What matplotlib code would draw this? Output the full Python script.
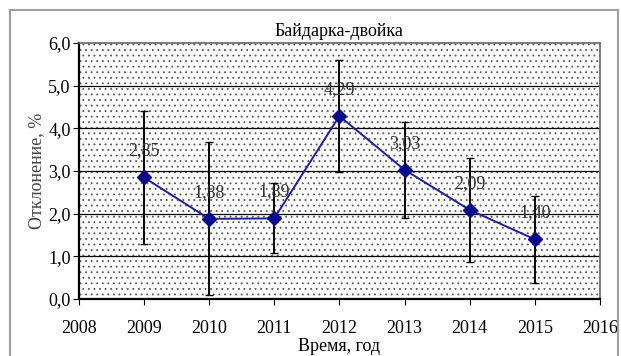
import matplotlib.pyplot as plt
from matplotlib.patches import Rectangle

plt.rcParams['font.family'] = ['Liberation Serif', 'DejaVu Serif']
plt.rcParams['hatch.linewidth'] = 0.6

# Данные
years = [2009, 2010, 2011, 2012, 2013, 2014, 2015]
values = [2.85, 1.88, 1.89, 4.29, 3.03, 2.09, 1.40]
errors = [1.56, 1.79, 0.82, 1.31, 1.13, 1.22, 1.02]
labels = ["2,85", "1,88", "1,89", "4,29", "3,03", "2,09", "1,40"]
xticks = [2008, 2009, 2010, 2011, 2012, 2013, 2014, 2015, 2016]
yticks = [0, 1, 2, 3, 4, 5, 6]

fig = plt.figure(figsize=(6.21, 3.56), dpi=100)
ax = fig.add_axes([0.127, 0.160, 0.839, 0.719])

# внешняя рамка
fig.patches.append(Rectangle((0.016, -0.05), 0.979, 1.022, transform=fig.transFigure,
                             fill=False, edgecolor='#a0a0a0', linewidth=1.5))

# точечный фон
ax.add_patch(Rectangle((0, 0), 1, 1, transform=ax.transAxes, facecolor='white',
                       edgecolor='#555555', hatch='...', linewidth=0, zorder=0))

ax.set_xlim(2008, 2016)
ax.set_ylim(0, 6)
ax.set_xticks(xticks)
ax.set_xticklabels([str(x) for x in xticks], fontsize=13)
ax.set_yticks(yticks)
ax.set_yticklabels([f"{y:.1f}".replace('.', ',') for y in yticks], fontsize=13)
ax.tick_params(axis='x', length=4, pad=11)
ax.tick_params(axis='y', length=4, pad=2)

for y in yticks[1:-1]:
    ax.axhline(y, color='black', linewidth=0.9, zorder=1)

for s in ['left', 'bottom']:
    ax.spines[s].set_linewidth(1.6)
    ax.spines[s].set_color('black')
for s in ['top', 'right']:
    ax.spines[s].set_linewidth(1.2)
    ax.spines[s].set_color('#666666')

ax.errorbar(years, values, yerr=errors, fmt='none', ecolor='black', elinewidth=1.4,
            capsize=3, capthick=1, zorder=3)
ax.plot(years, values, color='#1c1cb4', linewidth=1.4, marker='D', markersize=7,
        markerfacecolor='#0a0a8c', markeredgecolor='#0a0a8c', zorder=4)

for x, v, lab in zip(years, values, labels):
    ax.annotate(lab, (x, v), xytext=(0, 19), textcoords='offset points',
                ha='center', va='center', fontsize=13, color='#333333', zorder=5)

ax.set_title("Байдарка-двойка", fontsize=13, pad=5)
ax.set_ylabel("Отклонение, %", fontsize=13, color='#444444', labelpad=2)
ax.set_xlabel("Время, год", fontsize=13, labelpad=1)

fig.savefig("out.png", dpi=100)
